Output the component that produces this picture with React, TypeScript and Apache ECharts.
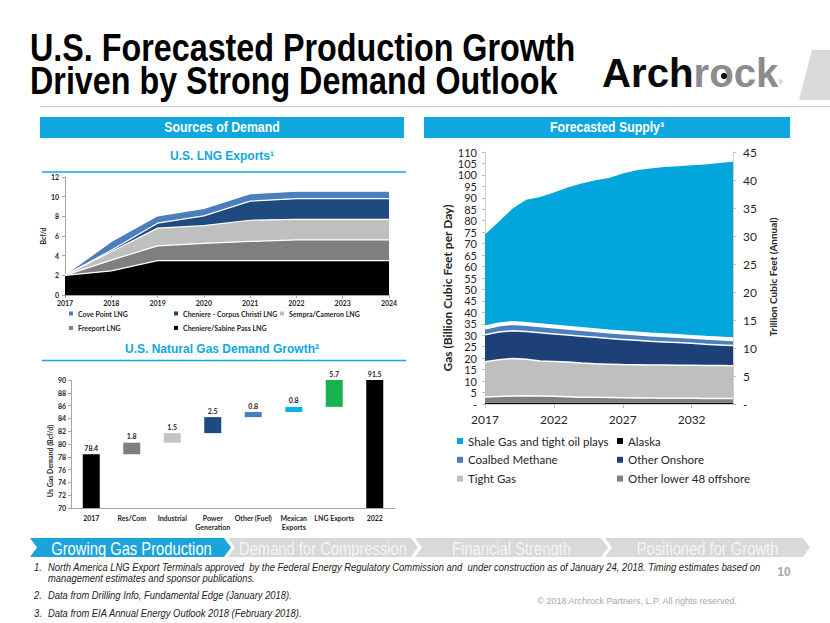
import React, { useEffect, useRef } from 'react';
import * as echarts from 'echarts';

// ---------- DATA ----------
const lngYears = ['2017', '2018', '2019', '2020', '2021', '2022', '2023', '2024'];
const sabinePassLng = [2.0, 2.45, 3.5, 3.5, 3.5, 3.5, 3.5, 3.5];
const freeportLng = [0, 1.1, 1.5, 1.75, 1.95, 2.1, 2.1, 2.1];
const sempraCameronLng = [0, 0.85, 1.8, 1.8, 2.15, 2.1, 2.1, 2.1];
const corpusChristiLng = [0, 0.15, 0.5, 1.0, 1.95, 2.1, 2.1, 2.1];
const covePointLng = [0.05, 0.9, 0.75, 0.75, 0.75, 0.75, 0.75, 0.75];

const demandCategories = ['2017', 'Res/Com', 'Industrial', 'Power\nGeneration', 'Other (Fuel)', 'Mexican\nExports', 'LNG Exports', '2022'];
const demandValues = [78.4, 1.8, 1.5, 2.5, 0.8, 0.8, 5.7, 91.5];

const supplyYears = ['2017', '2018', '2019', '2020', '2021', '2022', '2023', '2024', '2025', '2026', '2027', '2028', '2029', '2030', '2031', '2032', '2033', '2034', '2035'];
const alaska = [0.5, 0.5, 0.5, 0.5, 0.5, 0.5, 0.6, 0.6, 0.6, 0.6, 0.6, 0.6, 0.6, 0.6, 0.6, 0.6, 0.6, 0.6, 0.6];
const lower48Offshore = [2.6, 2.8, 3.0, 3.1, 3.0, 2.9, 2.6, 2.4, 2.3, 2.2, 2.1, 2.0, 2.0, 1.9, 1.9, 1.9, 1.8, 1.8, 1.8];
const tightGas = [15.3, 16.0, 16.4, 15.9, 15.3, 15.2, 15.1, 14.9, 14.7, 14.6, 14.5, 14.5, 14.4, 14.5, 14.4, 14.4, 14.4, 14.4, 14.3];
const otherOnshore = [11.8, 12.1, 12.1, 12.1, 12.3, 12.0, 11.8, 11.7, 11.5, 11.2, 11.0, 10.7, 10.4, 10.1, 9.9, 9.6, 9.3, 9.0, 8.8];
const coalbedMethane = [3.2, 3.3, 3.4, 3.3, 3.3, 3.2, 3.2, 3.1, 3.1, 3.0, 3.0, 3.0, 2.9, 2.9, 2.9, 2.8, 2.8, 2.8, 2.8];
const shaleGas = [40.6, 44.8, 49.9, 54.3, 56.0, 58.5, 61.2, 63.5, 65.5, 67.1, 69.4, 71.2, 72.5, 73.5, 74.1, 74.9, 75.6, 76.6, 77.4];

const navItems = ['Growing Gas Production', 'Demand for Compression', 'Financial Strength', 'Positioned for Growth'];
const footnotes = [
  ['1.', 'North America LNG Export Terminals approved  by the Federal Energy Regulatory Commission and  under construction as of January 24, 2018. Timing estimates based on'],
  ['', 'management estimates and sponsor publications.'],
  ['2.', 'Data from Drilling Info, Fundamental Edge (January 2018).'],
  ['3.', 'Data from EIA Annual Energy Outlook 2018 (February 2018).'],
];

// ---------- STYLE ----------
const CAL = 'Lato, Carlito, sans-serif';
const ARIAL = '"Liberation Sans", Arial, sans-serif';
const NARROW_SCALE = 0.82;
const BLUE = '#0ea7df';

const lngColors = { sabine: '#000000', freeport: '#7f7f7f', sempra: '#bfbfbf', corpus: '#1f4a7e', cove: '#4a7ebd' };
const demandColors = ['#000000', '#7f7f7f', '#c4c4c4', '#1f4a7e', '#4a7ebd', '#0bb0ea', '#14b350', '#000000'];
const supplyColors = { shale: '#03a6dc', coalbed: '#4a7ebd', onshore: '#1d4079', tight: '#bfbfbf', offshore: '#7f7f7f', alaska: '#000000' };

function buildOption() {
  const smallLabel = { fontFamily: CAL, fontSize: 7, fontWeight: 'bold' as const, color: '#262626' };
  const axisLineGrey = { show: true, lineStyle: { color: '#a6a6a6', width: 1 } };

  // waterfall bases derived from values
  const bases: number[] = [];
  let running = demandValues[0];
  demandValues.forEach((v, i) => {
    if (i === 0 || i === demandValues.length - 1) bases.push(0);
    else { bases.push(running); running += v; }
  });

  const lngArea = (name: string, data: number[], color: string) => ({
    name, type: 'line', xAxisIndex: 0, yAxisIndex: 0, stack: 'lng', data,
    symbol: 'none', color, lineStyle: { color: '#ffffff', width: 1.2 },
    areaStyle: { color, opacity: 1 }, emphasis: { disabled: true },
  });
  const supArea = (name: string, data: number[], color: string, lw: number) => ({
    name, type: 'line', xAxisIndex: 2, yAxisIndex: 2, stack: 'sup', data,
    symbol: 'none', color, lineStyle: { color: '#ffffff', width: lw },
    areaStyle: { color, opacity: 1 }, emphasis: { disabled: true },
  });

  const graphics: any[] = [];
  // title (narrow bold)
  graphics.push({
    type: 'text', x: 30, y: 31, scaleX: 0.85,
    style: { text: 'U.S. Forecasted Production Growth\nDriven by Strong Demand Outlook', verticalAlign: 'top', fontFamily: ARIAL, fontWeight: 'bold', fontSize: 38, lineHeight: 33, fill: '#000' },
  });
  // logo
  graphics.push({
    type: 'text', x: 602, y: 73, scaleX: 0.98,
    style: {
      text: '{a|Arch}{b|rock}{c|®}', verticalAlign: 'middle',
      rich: {
        a: { fontFamily: ARIAL, fontWeight: 'bold', fontSize: 41, fill: '#0a0a0a' },
        b: { fontFamily: ARIAL, fontWeight: 'bold', fontSize: 41, fill: '#8a8c8e' },
        c: { fontFamily: ARIAL, fontSize: 6, fill: '#8a8c8e', padding: [18, 0, 0, 0] },
      },
    },
  });
  graphics.push({ type: 'circle', shape: { cx: 724, cy: 76, r: 3.2 }, style: { fill: '#111' } });
  graphics.push({ type: 'polygon', shape: { points: [[812, 50], [830, 50], [830, 100], [799, 100]] }, style: { fill: '#d9d9d9' } });
  graphics.push({ type: 'line', shape: { x1: 40, y1: 106.5, x2: 830, y2: 106.5 }, style: { stroke: '#c8c8c8', lineWidth: 1 } });
  // header bars
  graphics.push({ type: 'rect', shape: { x: 40, y: 117, width: 364, height: 21 }, style: { fill: BLUE } });
  graphics.push({ type: 'text', x: 222, y: 127.5, scaleX: NARROW_SCALE, style: { text: 'Sources of Demand', align: 'center', verticalAlign: 'middle', fontFamily: ARIAL, fontWeight: 'bold', fontSize: 15, fill: '#fff' } });
  graphics.push({ type: 'rect', shape: { x: 424, y: 117, width: 366, height: 21 }, style: { fill: BLUE } });
  graphics.push({ type: 'text', x: 607, y: 127.5, scaleX: NARROW_SCALE, style: { text: 'Forecasted Supply³', align: 'center', verticalAlign: 'middle', fontFamily: ARIAL, fontWeight: 'bold', fontSize: 15, fill: '#fff' } });
  // sub titles
  graphics.push({ type: 'text', x: 222, y: 156, style: { text: 'U.S. LNG Exports¹', align: 'center', verticalAlign: 'middle', fontFamily: ARIAL, fontWeight: 'bold', fontSize: 12, fill: BLUE } });
  graphics.push({ type: 'line', shape: { x1: 42, y1: 172, x2: 406, y2: 172 }, style: { stroke: BLUE, lineWidth: 1.5 } });
  graphics.push({ type: 'text', x: 222, y: 349, style: { text: 'U.S. Natural Gas Demand Growth²', align: 'center', verticalAlign: 'middle', fontFamily: ARIAL, fontWeight: 'bold', fontSize: 12, fill: BLUE } });
  graphics.push({ type: 'line', shape: { x1: 42, y1: 360.5, x2: 406, y2: 360.5 }, style: { stroke: BLUE, lineWidth: 1.5 } });
  // axis names
  graphics.push({ type: 'text', x: 50, y: 461, rotation: Math.PI / 2, style: { text: 'Us Gas Demand (Bcf/d)', align: 'center', verticalAlign: 'middle', ...smallLabel, fill: '#262626' } });
  graphics.push({ type: 'text', x: 447, y: 288, rotation: Math.PI / 2, style: { text: 'Gas (Billion Cubic Feet per Day)', align: 'center', verticalAlign: 'middle', fontFamily: CAL, fontWeight: 'bold', fontSize: 12, fill: '#262626' } });
  graphics.push({ type: 'text', x: 773, y: 277, rotation: Math.PI / 2, style: { text: 'Trillion Cubic Feet (Annual)', align: 'center', verticalAlign: 'middle', fontFamily: CAL, fontWeight: 'bold', fontSize: 10, fill: '#262626' } });
  // nav chevrons
  const segs = [[30, 224], [228, 411], [415, 601], [605, 803]];
  const top = 538, bot = 557, mid = 547.5, d = 7;
  segs.forEach(([x0, x1], i) => {
    graphics.push({
      type: 'polygon',
      shape: { points: [[x0, top], [x1, top], [x1 + d, mid], [x1, bot], [x0, bot], [x0 + d, mid]] },
      style: { fill: i === 0 ? '#1ba3db' : '#d9d9d9' },
    });
    graphics.push({
      type: 'text', x: (x0 + x1 + d) / 2 + (i === 0 ? 1 : 0), y: mid + 0.5, scaleX: NARROW_SCALE,
      style: { text: navItems[i], align: 'center', verticalAlign: 'middle', fontFamily: ARIAL, fontSize: 18, fill: i === 0 ? '#ffffff' : '#f4f4f4' },
    });
  });
  // footnotes
  const fy = [567, 578.5, 595, 613];
  footnotes.forEach(([n, t], i) => {
    if (n) graphics.push({ type: 'text', x: 34, y: fy[i], scaleX: 0.855, style: { text: n, verticalAlign: 'middle', fontFamily: ARIAL, fontStyle: 'italic', fontSize: 11, fill: '#222' } });
    graphics.push({ type: 'text', x: 48, y: fy[i], scaleX: 0.855, style: { text: t, verticalAlign: 'middle', fontFamily: ARIAL, fontStyle: 'italic', fontSize: 11, fill: '#222' } });
  });
  graphics.push({ type: 'text', x: 784, y: 572, style: { text: '10', align: 'center', verticalAlign: 'middle', fontFamily: ARIAL, fontWeight: 'bold', fontSize: 12, fill: '#a6a6a6' } });
  graphics.push({ type: 'text', x: 737, y: 601, style: { text: '© 2018 Archrock Partners, L.P. All rights reserved.', align: 'right', verticalAlign: 'middle', fontFamily: ARIAL, fontSize: 9, fill: '#a6a6a6' } });

  const legendBase = { orient: 'vertical', padding: 0, icon: 'rect', selectedMode: false };
  const lngLegendText = { ...smallLabel, lineHeight: 9 };
  const supLegendText = { fontFamily: CAL, fontSize: 11.5, color: '#262626', lineHeight: 14 };
  const supAxisLabel = { fontFamily: CAL, fontSize: 11, lineHeight: 10, color: '#262626', showMaxLabel: true, showMinLabel: true, hideOverlap: false, formatter: (v: number) => (v === 0 ? '-' : String(v)) };

  return {
    animation: false,
    backgroundColor: '#ffffff',
    textStyle: { fontFamily: CAL },
    graphic: graphics,
    grid: [
      { left: 65, top: 177, width: 324, height: 118, outerBoundsMode: 'none', containLabel: false },
      { left: 71, top: 380, width: 324, height: 128, outerBoundsMode: 'none', containLabel: false },
      { left: 485, top: 152, width: 248, height: 252, outerBoundsMode: 'none', containLabel: false },
    ],
    legend: [
      { ...legendBase, left: 69, top: 309, itemWidth: 4, itemHeight: 4, itemGap: 5.4, textStyle: lngLegendText,
        data: [{ name: 'Cove Point LNG', itemStyle: { color: lngColors.cove } }, { name: 'Freeport LNG', itemStyle: { color: lngColors.freeport } }] },
      { ...legendBase, left: 174, top: 309, itemWidth: 4, itemHeight: 4, itemGap: 5.4, textStyle: lngLegendText,
        data: [{ name: 'Cheniere - Corpus Christi LNG', itemStyle: { color: lngColors.corpus } }, { name: 'Cheniere/Sabine Pass LNG', itemStyle: { color: lngColors.sabine } }] },
      { ...legendBase, left: 280, top: 309, itemWidth: 4, itemHeight: 4, itemGap: 5.4, textStyle: lngLegendText,
        data: [{ name: 'Sempra/Cameron LNG', itemStyle: { color: lngColors.sempra } }] },
      { ...legendBase, left: 457, top: 434, itemWidth: 6, itemHeight: 6, itemGap: 4.8, textStyle: supLegendText,
        data: [{ name: 'Shale Gas and tight oil plays', itemStyle: { color: supplyColors.shale } }, { name: 'Coalbed Methane', itemStyle: { color: supplyColors.coalbed } }, { name: 'Tight Gas', itemStyle: { color: supplyColors.tight } }] },
      { ...legendBase, left: 617, top: 434, itemWidth: 6, itemHeight: 6, itemGap: 4.8, textStyle: supLegendText,
        data: [{ name: 'Alaska', itemStyle: { color: supplyColors.alaska } }, { name: 'Other Onshore', itemStyle: { color: supplyColors.onshore } }, { name: 'Other lower 48 offshore', itemStyle: { color: supplyColors.offshore } }] },
    ],
    xAxis: [
      { gridIndex: 0, type: 'category', data: lngYears, boundaryGap: false, axisLine: axisLineGrey,
        axisTick: { show: true, length: 3, lineStyle: { color: '#a6a6a6' } }, axisLabel: { ...smallLabel, margin: 4 }, splitLine: { show: false } },
      { gridIndex: 1, type: 'category', data: demandCategories, axisLine: axisLineGrey,
        axisTick: { show: false }, axisLabel: { ...smallLabel, margin: 5, lineHeight: 9, interval: 0 }, splitLine: { show: false } },
      { gridIndex: 2, type: 'category', data: supplyYears, boundaryGap: false, axisLine: { show: true, lineStyle: { color: '#d0d0d0' } },
        axisTick: { show: true, interval: 4, length: 4, lineStyle: { color: '#bfbfbf' } },
        axisLabel: { interval: 4, fontFamily: CAL, fontSize: 12, color: '#262626', margin: 9 }, splitLine: { show: false } },
    ],
    yAxis: [
      { gridIndex: 0, type: 'value', min: 0, max: 12, interval: 2, axisLine: axisLineGrey,
        axisTick: { show: true, length: 3, lineStyle: { color: '#a6a6a6' } }, axisLabel: { ...smallLabel, margin: 6 }, splitLine: { show: false },
        name: 'Bcf/d', nameLocation: 'middle', nameGap: 16, nameTextStyle: { ...smallLabel } },
      { gridIndex: 1, type: 'value', min: 70, max: 90, interval: 2, axisLine: axisLineGrey,
        axisTick: { show: true, length: 3, lineStyle: { color: '#a6a6a6' } }, axisLabel: { ...smallLabel, margin: 5 }, splitLine: { show: false } },
      { gridIndex: 2, type: 'value', min: 0, max: 110, interval: 5, axisLine: { show: true, lineStyle: { color: '#d0d0d0' } },
        axisTick: { show: true, length: 3, lineStyle: { color: '#bfbfbf' } },
        axisLabel: { ...supAxisLabel, margin: 8 }, splitLine: { show: false } },
      { gridIndex: 2, type: 'value', position: 'right', min: 0, max: 45, interval: 5, axisLine: { show: true, lineStyle: { color: '#d0d0d0' } },
        axisTick: { show: true, length: 3, lineStyle: { color: '#bfbfbf' } },
        axisLabel: { ...supAxisLabel, fontSize: 12, margin: 10 }, splitLine: { show: false } },
    ],
    series: [
      lngArea('Cheniere/Sabine Pass LNG', sabinePassLng, lngColors.sabine),
      lngArea('Freeport LNG', freeportLng, lngColors.freeport),
      lngArea('Sempra/Cameron LNG', sempraCameronLng, lngColors.sempra),
      lngArea('Cheniere - Corpus Christi LNG', corpusChristiLng, lngColors.corpus),
      lngArea('Cove Point LNG', covePointLng, lngColors.cove),
      {
        name: 'base', type: 'bar', xAxisIndex: 1, yAxisIndex: 1, stack: 'wf', data: bases, barWidth: 17,
        itemStyle: { color: 'transparent' }, silent: true, clip: true,
      },
      {
        name: 'demand', type: 'bar', xAxisIndex: 1, yAxisIndex: 1, stack: 'wf', barWidth: 17, clip: true,
        data: demandValues.map((v, i) => ({ value: v, itemStyle: { color: demandColors[i] } })),
        label: { show: true, position: 'top', distance: 3, ...smallLabel, formatter: (p: any) => demandValues[p.dataIndex].toFixed(1) },
        emphasis: { disabled: true },
      },
      supArea('Alaska', alaska, supplyColors.alaska, 0),
      supArea('Other lower 48 offshore', lower48Offshore, supplyColors.offshore, 1.5),
      supArea('Tight Gas', tightGas, supplyColors.tight, 1.5),
      supArea('Other Onshore', otherOnshore, supplyColors.onshore, 1.5),
      supArea('Coalbed Methane', coalbedMethane, supplyColors.coalbed, 4),
      supArea('Shale Gas and tight oil plays', shaleGas, supplyColors.shale, 0),
    ],
  };
}

export default function App() {
  const ref = useRef<HTMLDivElement>(null);
  useEffect(() => {
    if (!ref.current) return;
    const chart = echarts.init(ref.current, null, { renderer: 'svg' });
    chart.setOption(buildOption() as any);
    return () => chart.dispose();
  }, []);
  return <div ref={ref} style={{ position: 'fixed', left: 0, top: 0, width: 830, height: 623, background: '#fff' }} />;
}
